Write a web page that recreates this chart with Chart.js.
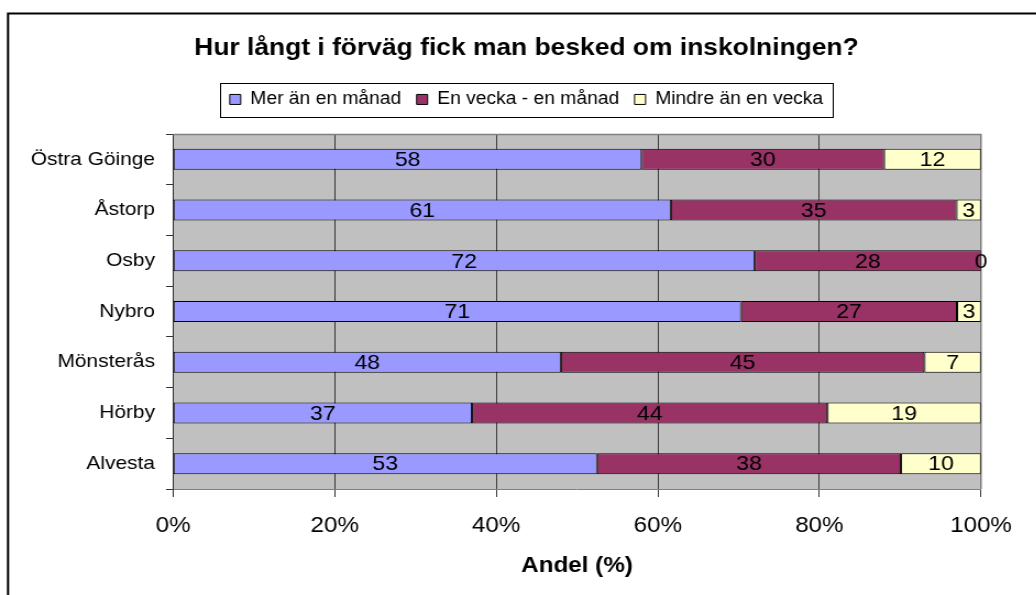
<!DOCTYPE html>
<html>
<head>
<meta charset="utf-8">
<script src="https://cdn.jsdelivr.net/npm/chart.js@4.4.0/dist/chart.umd.min.js"></script>
<style>
  html, body { margin: 0; padding: 0; background: #fff; overflow: hidden; }
  #wrap { width: 1036px; height: 595px; overflow: hidden; }
  #chart { display: block; transform: scaleX(1.1); transform-origin: 0 0; }
</style>
</head>
<body>
<div id="wrap"><canvas id="chart" width="960" height="595"></canvas></div>
<script>
// data (procent per kommun)
var kommuner = ['Östra Göinge', 'Åstorp', 'Osby', 'Nybro', 'Mönsterås', 'Hörby', 'Alvesta'];
var merAnManad = [58, 61, 72, 71, 48, 37, 53];
var enVeckaManad = [30, 35, 28, 27, 45, 44, 38];
var mindreAnVecka = [12, 3, 0, 3, 7, 19, 10];
var serieNamn = ['Mer än en månad', 'En vecka - en månad', 'Mindre än en vecka'];
var xTicks = [0, 20, 40, 60, 80, 100];

var farger = ['#9999ff', '#993366', '#ffffcc'];

// 100% stacked: every row is scaled to its own total
var totals = kommuner.map(function (k, i) {
  return merAnManad[i] + enVeckaManad[i] + mindreAnVecka[i];
});
function andel(arr) {
  return arr.map(function (v, i) { return v / totals[i] * 100; });
}

Chart.defaults.font.family = "'Liberation Sans', Arial, sans-serif";
Chart.defaults.color = '#000';

var ramPlugin = {
  id: 'ram',
  beforeDraw: function (chart) {
    var ctx = chart.ctx, a = chart.chartArea;
    ctx.save();
    ctx.fillStyle = '#fff';
    ctx.fillRect(0, 0, chart.width, chart.height);
    // outer frame, only left and top edges are inside the picture
    ctx.strokeStyle = '#000';
    ctx.lineWidth = 2;
    ctx.beginPath();
    ctx.moveTo(7.3, chart.height + 10);
    ctx.lineTo(7.3, 13.5);
    ctx.lineTo(chart.width + 10, 13.5);
    ctx.stroke();
    ctx.fillStyle = '#c0c0c0';
    ctx.fillRect(a.left, a.top, a.right - a.left, a.bottom - a.top);
    ctx.restore();
  },
  beforeDatasetsDraw: function (chart) {
    var ctx = chart.ctx, a = chart.chartArea;
    ctx.save();
    ctx.strokeStyle = '#808080';
    ctx.lineWidth = 1.4;
    ctx.beginPath();
    ctx.moveTo(a.left, a.top + 0.5);
    ctx.lineTo(a.right, a.top + 0.5);
    ctx.lineTo(a.right, a.bottom);
    ctx.stroke();
    ctx.restore();
  },
  afterDatasetsDraw: function (chart) {
    var ctx = chart.ctx;
    ctx.save();
    ctx.font = "21px 'Liberation Sans', Arial, sans-serif";
    ctx.fillStyle = '#000';
    ctx.textAlign = 'center';
    ctx.textBaseline = 'middle';
    chart.data.datasets.forEach(function (ds, d) {
      chart.getDatasetMeta(d).data.forEach(function (el, i) {
        ctx.fillText(String(ds.raw[i]), (el.x + el.base) / 2, el.y + 1);
      });
    });
    ctx.restore();
  },
  afterDraw: function (chart) {
    var boxes = chart.legend.legendHitBoxes;
    if (!boxes || !boxes.length) return;
    var l = Infinity, r = -Infinity, t = Infinity, b = -Infinity;
    boxes.forEach(function (h) {
      l = Math.min(l, h.left); r = Math.max(r, h.left + h.width);
      t = Math.min(t, h.top); b = Math.max(b, h.top + h.height);
    });
    var ctx = chart.ctx;
    ctx.save();
    ctx.strokeStyle = '#000';
    ctx.lineWidth = 1;
    ctx.strokeRect(Math.round(l - 8.5) + 0.5, Math.round(t - 8) + 0.5, Math.round(r - l + 17), Math.round(b - t + 16));
    ctx.restore();
  }
};

new Chart(document.getElementById('chart'), {
  type: 'bar',
  data: {
    labels: kommuner,
    datasets: [
      { label: serieNamn[0], data: andel(merAnManad), raw: merAnManad, backgroundColor: farger[0] },
      { label: serieNamn[1], data: andel(enVeckaManad), raw: enVeckaManad, backgroundColor: farger[1] },
      { label: serieNamn[2], data: andel(mindreAnVecka), raw: mindreAnVecka, backgroundColor: farger[2] }
    ]
  },
  plugins: [ramPlugin],
  options: {
    indexAxis: 'y',
    responsive: false,
    animation: false,
    layout: { padding: { left: 8, right: 10.8, top: 0, bottom: 0 } },
    datasets: {
      bar: {
        borderColor: '#000',
        borderWidth: 1,
        borderSkipped: false,
        categoryPercentage: 1,
        barPercentage: 0.414
      }
    },
    plugins: {
      tooltip: { enabled: false },
      title: {
        display: true,
        text: 'Hur långt i förväg fick man besked om inskolningen?',
        color: '#000',
        font: { size: 24, weight: 'bold' },
        padding: { top: 33.6, bottom: 14.3 }
      },
      // empty spacer between legend and plot
      subtitle: {
        display: true,
        text: '',
        weight: 500,
        font: { size: 10 },
        padding: { top: 3.8, bottom: 0 }
      },
      legend: {
        position: 'top',
        labels: {
          color: '#000',
          boxWidth: 10,
          boxHeight: 10,
          padding: 14,
          font: { size: 17.5 }
        }
      }
    },
    scales: {
      x: {
        stacked: true,
        min: 0,
        max: 100,
        afterBuildTicks: function (axis) {
          axis.ticks = xTicks.map(function (v) { return { value: v }; });
        },
        afterFit: function (s) { s.height = 106; },
        grid: { color: '#383838', tickColor: '#333', tickLength: 8 },
        border: { color: '#808080' },
        ticks: {
          color: '#000',
          padding: 15.5,
          font: { size: 22 },
          callback: function (v) { return v + '%'; }
        },
        title: {
          display: true,
          text: 'Andel (%)',
          color: '#000',
          font: { size: 22, weight: 'bold' },
          padding: { top: 0, bottom: 15.8 }
        }
      },
      y: {
        stacked: true,
        afterFit: function (s) { s.width = 149.3; },
        grid: { offset: true, drawOnChartArea: false, color: '#333', tickColor: '#333', tickLength: 6.4 },
        border: { color: '#333' },
        ticks: { color: '#000', padding: 10, font: { size: 19 } }
      },
      // empty box on the right so that title and legend stay centred like the original
      hoger: {
        type: 'linear',
        position: 'right',
        display: true,
        grid: { display: false },
        border: { display: false },
        ticks: { display: false },
        afterFit: function (s) { s.width = 57.4; }
      }
    }
  }
});
</script>
</body>
</html>
